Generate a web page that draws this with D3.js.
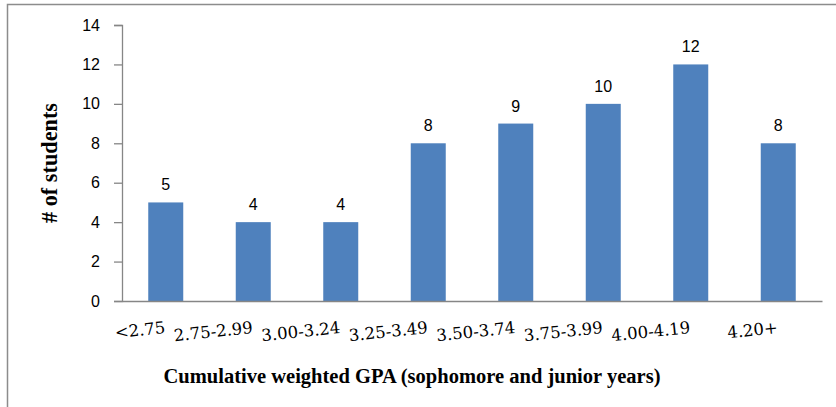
<!DOCTYPE html>
<html>
<head>
<meta charset="utf-8">
<script src="https://cdn.jsdelivr.net/npm/d3@7"></script>
<style>
  body { margin: 0; background: #fff; }
</style>
</head>
<body>
<div id="chart"></div>
<script>
const categories = ["<2.75", "2.75-2.99", "3.00-3.24", "3.25-3.49", "3.50-3.74", "3.75-3.99", "4.00-4.19", "4.20+"];
const counts = [5, 4, 4, 8, 9, 10, 12, 8];
const yTicks = [0, 2, 4, 6, 8, 10, 12, 14];
const xTitle = "Cumulative weighted GPA (sophomore and junior years)";
const yTitle = "# of students";

const W = 836, H = 407;
const margin = { top: 25, right: 14, bottom: 106, left: 122 };
const width = W - margin.left - margin.right;
const height = H - margin.top - margin.bottom;

const svg = d3.select("#chart")
    .append("svg")
    .attr("width", W)
    .attr("height", H);

// chart frame (right and bottom edges fall outside the picture)
svg.append("rect")
    .attr("x", 7.5)
    .attr("y", 4.5)
    .attr("width", W + 10)
    .attr("height", H + 10)
    .attr("fill", "none")
    .attr("stroke", "#8c8c8c")
    .attr("stroke-width", 1.5);

const g = svg.append("g")
    .attr("transform", `translate(${margin.left},${margin.top})`);

const x = d3.scaleBand()
    .domain(categories)
    .range([0, width])
    .paddingInner(0.6)
    .paddingOuter(0.3);

const y = d3.scaleLinear()
    .domain([0, 14])
    .range([height, 0]);

// y axis
const yAxis = g.append("g")
    .call(d3.axisLeft(y).tickValues(yTicks).tickSize(8).tickPadding(14));
yAxis.selectAll("line, path").attr("stroke", "#868686").attr("stroke-width", 1.3);
yAxis.selectAll("text")
    .style("font-family", "'Liberation Sans', Arial, sans-serif")
    .style("font-size", "16px")
    .attr("fill", "#000");

// bars
g.selectAll(".bar")
    .data(counts)
    .join("rect")
    .attr("class", "bar")
    .attr("x", (d, i) => x(categories[i]))
    .attr("y", d => y(d))
    .attr("width", x.bandwidth())
    .attr("height", d => height - y(d))
    .attr("fill", "#4f81bd");

// value labels
g.selectAll(".val")
    .data(counts)
    .join("text")
    .attr("class", "val")
    .attr("x", (d, i) => x(categories[i]) + x.bandwidth() / 2)
    .attr("y", d => y(d) - 12)
    .attr("text-anchor", "middle")
    .style("font-family", "'Liberation Sans', Arial, sans-serif")
    .style("font-size", "16px")
    .text(d => d);

// x axis line
const xAxis = g.append("g")
    .attr("transform", `translate(0,${height})`)
    .call(d3.axisBottom(x).tickSize(0).tickFormat(""));
xAxis.select("path").attr("stroke", "#868686").attr("stroke-width", 1.5);

// slanted category labels, right end at the category centre
g.selectAll(".cat")
    .data(categories)
    .join("text")
    .attr("class", "cat")
    .attr("text-anchor", "end")
    .attr("transform", d => `translate(${x(d) + x.bandwidth() / 2},${height + 32}) rotate(-6)`)
    .style("font-family", "'DejaVu Serif', serif")
    .style("font-size", "16.5px")
    .text(d => d);

// axis titles, sized to the width they take in the original
function fitText(sel, target) {
    const len = sel.node().getComputedTextLength();
    const size = parseFloat(sel.style("font-size"));
    sel.style("font-size", (size * target / len).toFixed(2) + "px");
}

const xt = svg.append("text")
    .attr("x", 412)
    .attr("y", 383)
    .attr("text-anchor", "middle")
    .style("font-family", "'Liberation Serif', serif")
    .style("font-weight", "bold")
    .style("font-size", "20px")
    .text(xTitle);
fitText(xt, 497);

const yt = svg.append("text")
    .attr("transform", "translate(57,163) rotate(-90)")
    .attr("text-anchor", "middle")
    .style("font-family", "'Liberation Serif', serif")
    .style("font-weight", "bold")
    .style("font-size", "20px")
    .text(yTitle);
fitText(yt, 120);
</script>
</body>
</html>
